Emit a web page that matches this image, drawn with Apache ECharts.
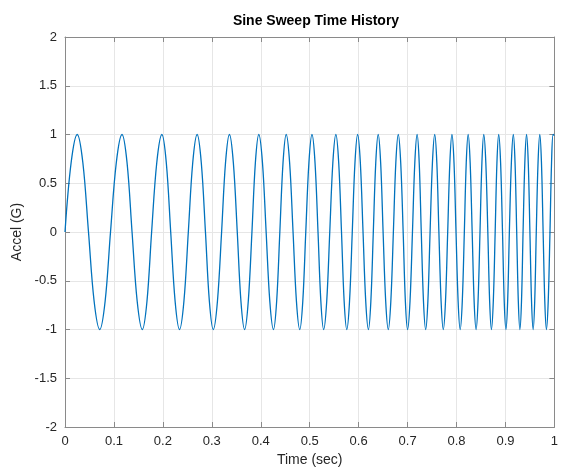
<!DOCTYPE html>
<html>
<head>
<meta charset="utf-8">
<script src="https://cdn.jsdelivr.net/npm/echarts@6/dist/echarts.min.js"></script>
<style>html,body{margin:0;padding:0;background:#fff}#c{width:561px;height:472px}</style>
</head>
<body>
<div id="c"></div>
<script>
// Time samples (sec): per cycle zero, rising, peak, falling, zero, falling, trough, rising
const timeSec = [
  0.000, 0.0125, 0.025, 0.0365, 0.048, 0.0595, 0.071, 0.082,
  0.093, 0.1048, 0.1165, 0.1268, 0.137, 0.1475, 0.158, 0.1675,
  0.177, 0.1875, 0.198, 0.207, 0.216, 0.225, 0.234, 0.243,
  0.252, 0.261, 0.270, 0.2785, 0.287, 0.295, 0.303, 0.3115,
  0.320, 0.328, 0.336, 0.344, 0.352, 0.3595, 0.367, 0.3745,
  0.382, 0.389, 0.396, 0.4035, 0.411, 0.4185, 0.426, 0.4325,
  0.439, 0.4455, 0.452, 0.459, 0.466, 0.4729, 0.4797, 0.4859,
  0.492, 0.4984, 0.5047, 0.5109, 0.517, 0.5228, 0.5285, 0.5348,
  0.541, 0.5473, 0.5535, 0.5593, 0.565, 0.5704, 0.5758, 0.5814,
  0.587, 0.5925, 0.598, 0.6035, 0.609, 0.6145, 0.620, 0.625,
  0.630, 0.635, 0.640, 0.645, 0.650, 0.6553, 0.6606, 0.6658,
  0.671, 0.676, 0.681, 0.686, 0.691, 0.6955, 0.700, 0.705,
  0.710, 0.7148, 0.7195, 0.7238, 0.728, 0.7325, 0.737, 0.7415,
  0.746, 0.7508, 0.7555, 0.7598, 0.764, 0.7685, 0.773, 0.7775,
  0.782, 0.7864, 0.7907, 0.7949, 0.799, 0.8033, 0.8075, 0.8118,
  0.816, 0.8199, 0.8238, 0.8279, 0.832, 0.836, 0.840, 0.844,
  0.848, 0.8519, 0.8557, 0.8599, 0.864, 0.8677, 0.8713, 0.8752,
  0.879, 0.8826, 0.8862, 0.8901, 0.894, 0.8975, 0.901, 0.9045,
  0.908, 0.9121, 0.9161, 0.9196, 0.923, 0.9263, 0.9295, 0.9328,
  0.936, 0.9396, 0.9431, 0.9466, 0.950, 0.9533, 0.9566, 0.9598,
  0.963, 0.9666, 0.9702, 0.9736, 0.977, 0.9804, 0.9837, 0.9874,
  0.991, 0.9942, 0.9974, 1.000
];
// Acceleration (G) at those times
const accelG = [
  0, 0.71, 1, 0.71, 0, -0.71, -1, -0.71,
  0, 0.71, 1, 0.71, 0, -0.71, -1, -0.71,
  0, 0.71, 1, 0.71, 0, -0.71, -1, -0.71,
  0, 0.71, 1, 0.71, 0, -0.71, -1, -0.71,
  0, 0.71, 1, 0.71, 0, -0.71, -1, -0.71,
  0, 0.71, 1, 0.71, 0, -0.71, -1, -0.71,
  0, 0.71, 1, 0.71, 0, -0.71, -1, -0.71,
  0, 0.71, 1, 0.71, 0, -0.71, -1, -0.71,
  0, 0.71, 1, 0.71, 0, -0.71, -1, -0.71,
  0, 0.71, 1, 0.71, 0, -0.71, -1, -0.71,
  0, 0.71, 1, 0.71, 0, -0.71, -1, -0.71,
  0, 0.71, 1, 0.71, 0, -0.71, -1, -0.71,
  0, 0.71, 1, 0.71, 0, -0.71, -1, -0.71,
  0, 0.71, 1, 0.71, 0, -0.71, -1, -0.71,
  0, 0.71, 1, 0.71, 0, -0.71, -1, -0.71,
  0, 0.71, 1, 0.71, 0, -0.71, -1, -0.71,
  0, 0.71, 1, 0.71, 0, -0.71, -1, -0.71,
  0, 0.71, 1, 0.71, 0, -0.71, -1, -0.71,
  0, 0.71, 1, 0.71, 0, -0.71, -1, -0.71,
  0, 0.71, 1, 0.71, 0, -0.71, -1, -0.71,
  0, 0.71, 1, 0.71, 0, -0.71, -1, -0.71,
  0, 0.71, 1, 0.99
];
const xTicks = [0, 0.1, 0.2, 0.3, 0.4, 0.5, 0.6, 0.7, 0.8, 0.9, 1];
const yTicks = [-2, -1.5, -1, -0.5, 0, 0.5, 1, 1.5, 2];
const titleText = 'Sine Sweep Time History';
const xName = 'Time (sec)';
const yName = 'Accel (G)';

const data = timeSec.map((t, i) => [t, accelG[i]]);
const font = 'Liberation Sans, Arial, Helvetica, sans-serif';
const axisGray = '#8a8a8a';
const textCol = '#262626';
const fmt = (list) => (v) => {
  const r = Math.round(v * 10) / 10;
  return list.includes(r) ? String(r) : '';
};

const chart = echarts.init(document.getElementById('c'), null, {renderer: 'canvas'});
const baseX = {
  type: 'value', min: 0, max: 1, interval: 0.1,
  splitLine: {show: false},
  axisLine: {show: true, onZero: false, lineStyle: {color: axisGray, width: 1}},
  axisTick: {show: true, inside: true, length: 5, lineStyle: {color: axisGray}},
};
const baseY = {
  type: 'value', min: -2, max: 2, interval: 0.5,
  splitLine: {show: false},
  axisLine: {show: true, onZero: false, lineStyle: {color: axisGray, width: 1}},
  axisTick: {show: true, inside: true, length: 5, lineStyle: {color: axisGray}},
};
chart.setOption({
  animation: false,
  backgroundColor: '#fff',
  title: {
    text: titleText, left: 311, top: 9, textAlign: 'center',
    textStyle: {fontFamily: font, fontSize: 14, fontWeight: 'bold', color: '#000'}
  },
  grid: {left: 65, right: 4, top: 37, bottom: 45, containLabel: false},
  xAxis: [
    Object.assign({}, baseX, {
      position: 'bottom',
      name: xName, nameLocation: 'middle', nameGap: 24,
      nameTextStyle: {fontFamily: font, fontSize: 14, color: textCol},
      axisLabel: {fontFamily: font, fontSize: 13, color: textCol, margin: 8, formatter: fmt(xTicks)},
      splitLine: {show: true, lineStyle: {color: '#e6e6e6', width: 1}}
    }),
    Object.assign({}, baseX, {position: 'top', axisLabel: {show: false}})
  ],
  yAxis: [
    Object.assign({}, baseY, {
      position: 'left',
      name: yName, nameLocation: 'middle', nameGap: 40, nameRotate: 90,
      nameTextStyle: {fontFamily: font, fontSize: 14, color: textCol},
      axisLabel: {fontFamily: font, fontSize: 13, color: textCol, margin: 8, formatter: fmt(yTicks)},
      splitLine: {show: true, lineStyle: {color: '#e6e6e6', width: 1}}
    }),
    Object.assign({}, baseY, {position: 'right', axisLabel: {show: false}})
  ],
  series: [{
    type: 'line', data: data, xAxisIndex: 0, yAxisIndex: 0,
    smooth: 0.35, showSymbol: false, symbol: 'none',
    lineStyle: {color: '#0072BD', width: 1.3}
  }]
});
</script>
</body>
</html>
